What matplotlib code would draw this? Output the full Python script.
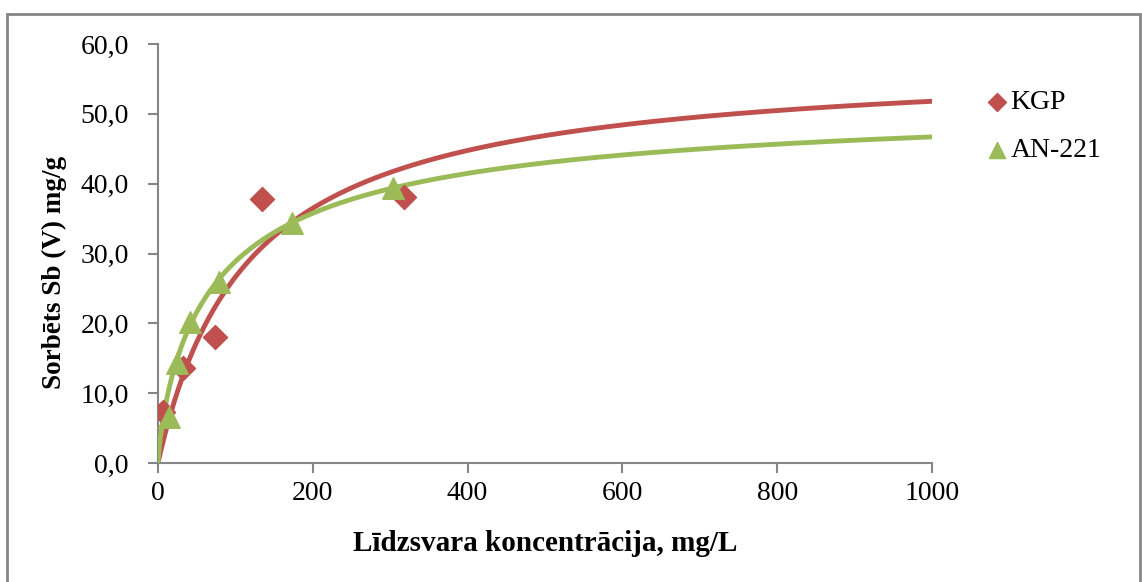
import numpy as np
import matplotlib.pyplot as plt
from matplotlib.patches import Rectangle
from matplotlib.ticker import FuncFormatter

plt.rcParams['font.family'] = ['Liberation Serif', 'DejaVu Serif']

# measured points
kgp_c = [6.5, 32, 74, 134, 318]
kgp_q = [7.3, 13.6, 18.0, 37.8, 38.1]
an_c = [14, 24, 41, 79, 173, 304]
an_q = [6.6, 14.3, 20.2, 25.9, 34.4, 39.4]

# isotherm model parameters: q = qm * C^n / (b + C^n)
kgp_qm, kgp_b, kgp_n = 57.87, 117.2, 1.0
an_qm, an_b, an_n = 52.85, 33.1, 0.8

red = '#c0504d'
green = '#9bbb59'
grey = '#868686'

fig = plt.figure(figsize=(11.42, 5.82), dpi=100)
fig.patches.append(Rectangle((7 / 1142, -0.01), 1133 / 1142, 1 - 14 / 582 + 0.01,
                             transform=fig.transFigure, fill=False,
                             edgecolor=grey, linewidth=2))
ax = fig.add_axes([158 / 1142, 119 / 582, 774 / 1142, 419 / 582])

c = np.linspace(0, 1000, 1001)
ax.plot(c, kgp_qm * c**kgp_n / (kgp_b + c**kgp_n), color=red, lw=3.5, zorder=2)
ax.plot(c, an_qm * c**an_n / (an_b + c**an_n), color=green, lw=3.5, zorder=3)
ax.scatter(kgp_c, kgp_q, marker='D', s=150, color=red, zorder=4, label='KGP')
ax.scatter(an_c, an_q, marker='^', s=240, color=green, zorder=5, label='AN-221')

ax.set_xlim(0, 1000)
ax.set_ylim(0, 60)
ax.set_xticks(range(0, 1001, 200))
ax.set_yticks(range(0, 61, 10))
ax.yaxis.set_major_formatter(FuncFormatter(lambda v, p: f'{v:.1f}'.replace('.', ',')))
for s in ['top', 'right']:
    ax.spines[s].set_visible(False)
for s in ['left', 'bottom']:
    ax.spines[s].set_color(grey)
    ax.spines[s].set_linewidth(1.5)
ax.tick_params(colors=grey, labelcolor='black', labelsize=20, length=7, width=1.5)
ax.tick_params(axis='y', pad=14)
ax.tick_params(axis='x', pad=6)

ax.set_xlabel('Līdzsvara koncentrācija, mg/L', fontsize=21, fontweight='bold', labelpad=17)
ax.set_ylabel('Sorbēts Sb (V) mg/g', fontsize=19.5, fontweight='bold', labelpad=10, y=0.455)

fig.legend(loc='upper left', bbox_to_anchor=(969 / 1142, 1 - 76 / 582), frameon=False,
           fontsize=20, handlelength=1.0, handletextpad=0.0, labelspacing=0.8,
           borderpad=0, markerscale=0.75)

fig.savefig('out.png', dpi=100)
